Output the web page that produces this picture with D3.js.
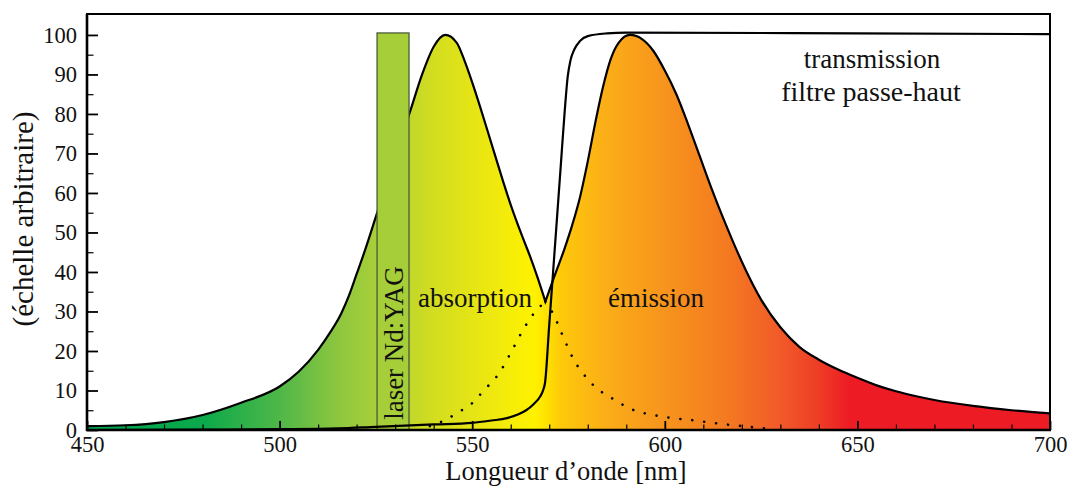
<!DOCTYPE html>
<html>
<head>
<meta charset="utf-8">
<script src="https://cdn.jsdelivr.net/npm/d3@7"></script>
<style>
  html, body { margin: 0; padding: 0; background: #fff; }
  svg { display: block; }
  svg text { font-family: "Liberation Serif", "Tinos", "Times New Roman", "DejaVu Serif", "Noto Serif", serif; fill: #111; }
</style>
</head>
<body>
<svg id="chart" width="1070" height="486"></svg>
<script>
// ---------------- data ----------------
// absorption (solid part, up to the crossing point)
const absWl  = [450, 460, 470, 480, 490, 500, 505, 510, 513, 516, 518, 520, 522, 525, 530, 534, 537, 540, 543, 546, 548, 550, 552, 555, 558, 560, 563, 565, 567, 569];
const absVal = [1.0, 1.2, 2.0, 3.8, 6.9, 11.0, 14.8, 20.3, 24.5, 29.5, 34, 39.5, 45, 54, 69, 81, 90, 97, 100, 98, 93.5, 88, 82, 72.5, 63, 57, 49, 44, 38.5, 32.5];
// absorption tail (dotted) beyond the crossing point
const absTailWl  = [569, 570, 571, 573, 576, 581, 587, 592, 597, 602, 607, 615, 622, 627];
const absTailVal = [32.5, 31, 29.5, 25, 18.5, 11.8, 7.6, 5, 3.8, 3, 2.5, 1.5, 0.8, 0.3];
// emission (solid part, from the crossing point)
const emWl  = [569, 571, 574, 576, 578, 580, 582, 584, 586, 588, 591, 594, 597, 600, 603, 606, 609, 612, 615, 618, 621, 625, 630, 635, 640, 645, 650, 655, 660, 665, 670, 680, 690, 700];
const emVal = [32.5, 38, 46, 52, 59, 68, 78, 87, 94, 98, 100, 99, 96, 91, 85, 77.5, 69.5, 61.5, 54, 47, 40.5, 33, 26, 21, 17.8, 15.3, 13.2, 11.3, 9.8, 8.6, 7.6, 6.1, 5, 4.2];
// emission tail (dotted) before the crossing point
const emTailWl  = [539, 541, 543, 546, 550, 553, 557, 560, 563, 566, 569];
const emTailVal = [1.0, 1.7, 2.5, 4.3, 6.8, 10, 14.4, 19.5, 25, 29.5, 32.5];
// high-pass filter transmission
const trWl  = [450, 480, 500, 515, 525, 540, 550, 555, 559, 562, 564, 566, 567.6, 568.5, 568.9, 570, 571, 572, 573, 574, 574.8, 575.5, 576.5, 578, 580, 585, 590, 650, 700];
const trVal = [0, 0.1, 0.2, 0.4, 0.8, 1.4, 1.8, 2.4, 3, 4, 5, 6.6, 8.4, 10.3, 11.9, 26.6, 40, 53.5, 67, 80.5, 89.5, 93.5, 96.3, 98.5, 99.7, 100.4, 100.6, 100.4, 100.2];
// Nd:YAG laser band
const laserBand = [525.3, 533.6];
const laserLevel = 100.5;
// axes
const xMajorTicks = [450, 500, 550, 600, 650, 700];
const xMinorTicks = [460, 470, 480, 490, 510, 520, 530, 540, 560, 570, 580, 590, 610, 620, 630, 640, 660, 670, 680, 690];
const yMajorTicks = [0, 10, 20, 30, 40, 50, 60, 70, 80, 90, 100];
const yMinorTicks = [5, 15, 25, 35, 45, 55, 65, 75, 85, 95];
const xLabel = "Longueur d\u2019onde [nm]";
const yLabel = "(\u00e9chelle arbitraire)";

// ---------------- drawing ----------------
const FONT = '"Liberation Serif", "Tinos", "Times New Roman", "DejaVu Serif", "Noto Serif", serif';
const svg = d3.select("#chart");
const x = d3.scaleLinear().domain([450, 700]).range([87, 1050]);
const y = d3.scaleLinear().domain([0, 105.3]).range([430, 14]);

const zip = (a, b) => a.map((v, i) => [v, b[i]]);
const absPts = zip(absWl, absVal), emPts = zip(emWl, emVal);
const absTail = zip(absTailWl, absTailVal), emTail = zip(emTailWl, emTailVal);
const trPts = zip(trWl, trVal);

const line = d3.line().x(d => x(d[0])).y(d => y(d[1])).curve(d3.curveMonotoneX);

// gradient
const gradStops = [
  [450, "#00a651"], [480, "#0ba94b"], [500, "#4fb748"], [515, "#8cc63f"], [525, "#a8cf38"],
  [540, "#d3dd20"], [555, "#eee80f"], [566, "#fff200"], [569.5, "#fde100"], [573, "#fec90a"],
  [585, "#fbad18"], [600, "#f7941d"], [615, "#f47c20"], [630, "#f15a29"], [640, "#ee3d26"],
  [648, "#ed1c24"], [700, "#ed1c24"]
];
const defs = svg.append("defs");
const grad = defs.append("linearGradient").attr("id", "spec")
  .attr("gradientUnits", "userSpaceOnUse")
  .attr("x1", x(450)).attr("x2", x(700)).attr("y1", 0).attr("y2", 0);
grad.selectAll("stop").data(gradStops).join("stop")
  .attr("offset", d => (d[0] - 450) / 250)
  .attr("stop-color", d => d[1]);

// filled envelope (max of absorption / emission)
const p1 = line(absPts);
const p2 = line(emPts).replace(/^M/, "L");
const fillPath = p1 + p2 + `L${x(700)},${y(0)}L${x(450)},${y(0)}Z`;
svg.append("path").attr("d", fillPath).attr("fill", "url(#spec)");

// outline
svg.append("path").attr("d", p1 + p2).attr("fill", "none")
  .attr("stroke", "#000").attr("stroke-width", 2.2).attr("stroke-linejoin", "miter");

// dotted tails
[absTail, emTail].forEach(pts => {
  svg.append("path").attr("d", line(pts)).attr("fill", "none")
    .attr("stroke", "#000").attr("stroke-width", 2.6)
    .attr("stroke-linecap", "round").attr("stroke-dasharray", "0.01 12");
});

// laser bar
svg.append("rect")
  .attr("x", x(laserBand[0])).attr("y", y(laserLevel))
  .attr("width", x(laserBand[1]) - x(laserBand[0]))
  .attr("height", y(0) - y(laserLevel))
  .attr("fill", "#a6ce39").attr("stroke", "#4a5a3a").attr("stroke-width", 1.3);

// transmission curve
svg.append("path").attr("d", line(trPts)).attr("fill", "none")
  .attr("stroke", "#000").attr("stroke-width", 2.2);

// labels
const label = (tx, ty, txt, rot, size) => svg.append("text")
  .attr("transform", `translate(${tx},${ty})` + (rot ? " rotate(-90)" : ""))
  .attr("text-anchor", "middle").attr("font-size", size || 27)
  .attr("font-family", FONT).text(txt);
const xc = (x(laserBand[0]) + x(laserBand[1])) / 2;
label(xc + 10, 343, "laser Nd:YAG", true);
label(475, 307, "absorption");
label(656, 307, "\u00e9mission");
label(872, 68, "transmission");
label(871, 101, "filtre passe-haut", false, 28);

// axes
const gx = svg.append("g").attr("transform", `translate(0,${y(0)})`)
  .call(d3.axisBottom(x).tickValues(xMajorTicks).tickFormat(d3.format("d")).tickSize(-9).tickPadding(6));
const gxm = svg.append("g").attr("transform", `translate(0,${y(0)})`)
  .call(d3.axisBottom(x).tickValues(xMinorTicks).tickFormat("").tickSize(-5.5));
const gy = svg.append("g").attr("transform", `translate(${x(450)},0)`)
  .call(d3.axisLeft(y).tickValues(yMajorTicks).tickFormat(d3.format("d")).tickSize(-11).tickPadding(10));
const gym = svg.append("g").attr("transform", `translate(${x(450)},0)`)
  .call(d3.axisLeft(y).tickValues(yMinorTicks).tickFormat("").tickSize(-6.5));
[gx, gxm, gy, gym].forEach(g => {
  g.attr("font-family", FONT);
  g.select(".domain").remove();
  g.selectAll("text").attr("font-size", 22.5).attr("fill", "#111").attr("font-family", FONT);
});
[gx, gy].forEach(g => g.selectAll("line").attr("stroke", "#000").attr("stroke-width", 1.8));
[gxm, gym].forEach(g => g.selectAll("line").attr("stroke", "#000").attr("stroke-width", 1.2));

// frame
svg.append("rect").attr("x", x(450)).attr("y", y(105.3)).attr("width", x(700) - x(450))
  .attr("height", y(0) - y(105.3)).attr("fill", "none").attr("stroke", "#000").attr("stroke-width", 2);
svg.append("line").attr("x1", x(450)).attr("x2", x(450)).attr("y1", y(105.3)).attr("y2", y(0) + 1)
  .attr("stroke", "#000").attr("stroke-width", 2.6);
svg.append("line").attr("x1", x(450) - 1).attr("x2", x(700) + 1).attr("y1", y(0)).attr("y2", y(0))
  .attr("stroke", "#000").attr("stroke-width", 2.6);

// axis titles
label(566, 480, xLabel, false, 26.5);
label(33, 219, yLabel, true, 29);
</script>
</body>
</html>
